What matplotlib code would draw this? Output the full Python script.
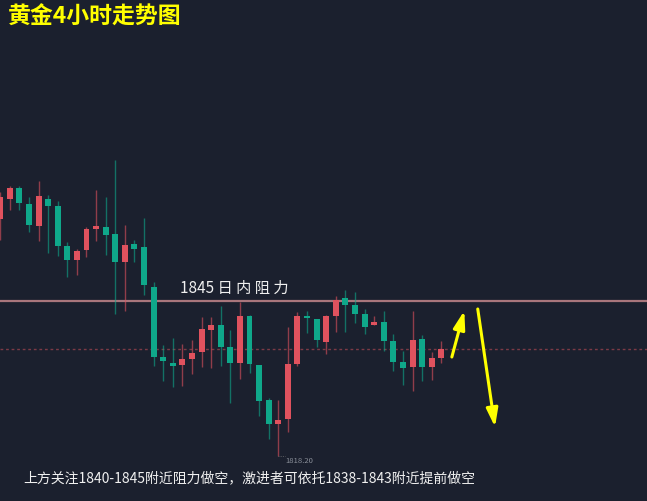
import matplotlib.pyplot as plt
import numpy as np

plt.rcParams['font.family'] = ['Noto Sans CJK SC', 'DejaVu Sans']

# 4-hour gold candles (red = up, green = down)
opens = [1859.2, 1862.6, 1864.5, 1861.8, 1858.0, 1862.6, 1861.4, 1854.5, 1852.1, 1853.8,
         1857.4, 1857.8, 1856.6, 1851.7, 1854.9, 1854.3, 1847.4, 1835.3, 1834.3, 1833.9,
         1835.0, 1836.2, 1840.0, 1840.9, 1837.0, 1834.3, 1842.4, 1833.9, 1827.9, 1823.7,
         1824.6, 1834.1, 1842.2, 1841.9, 1837.9, 1842.4, 1845.5, 1844.3, 1842.8, 1840.9,
         1841.4, 1838.1, 1834.5, 1833.6, 1838.4, 1833.6, 1835.1]
highs = [1863.8, 1864.9, 1864.9, 1863.0, 1865.7, 1863.3, 1862.3, 1855.2, 1854.0, 1857.8,
         1864.2, 1863.0, 1869.4, 1858.1, 1855.5, 1859.4, 1848.3, 1837.4, 1838.6, 1837.6,
         1838.3, 1842.2, 1842.2, 1844.1, 1840.0, 1844.8, 1842.6, 1833.9, 1828.2, 1827.9,
         1840.5, 1843.1, 1843.3, 1841.9, 1842.6, 1845.9, 1846.9, 1846.6, 1843.6, 1842.4,
         1843.3, 1839.3, 1836.4, 1843.3, 1839.1, 1836.2, 1838.1]
lows = [1855.5, 1860.7, 1860.7, 1856.9, 1855.4, 1853.3, 1852.8, 1849.1, 1849.5, 1852.6,
        1855.4, 1853.0, 1842.8, 1843.3, 1851.7, 1846.0, 1833.8, 1831.2, 1830.1, 1830.3,
        1832.4, 1833.6, 1833.4, 1833.8, 1827.4, 1831.5, 1832.6, 1825.1, 1821.1, 1818.2,
        1822.4, 1833.8, 1839.5, 1837.0, 1835.8, 1839.6, 1839.6, 1841.2, 1839.3, 1840.9,
        1836.4, 1832.9, 1830.5, 1829.4, 1831.2, 1831.3, 1834.3]
closes = [1863.0, 1864.5, 1861.9, 1858.1, 1863.2, 1861.4, 1854.5, 1852.1, 1853.6, 1857.4,
          1858.0, 1856.4, 1851.7, 1854.7, 1854.0, 1847.8, 1835.3, 1834.6, 1833.8, 1835.0,
          1836.0, 1840.2, 1840.9, 1837.0, 1834.3, 1842.4, 1834.1, 1827.7, 1823.7, 1824.4,
          1834.1, 1842.4, 1842.1, 1838.3, 1842.4, 1845.2, 1844.3, 1842.8, 1840.5, 1841.4,
          1838.1, 1834.5, 1833.4, 1838.3, 1833.6, 1835.1, 1836.7]

resistance = 1845.0
last_price = 1836.7
low_label = '1818.20'
title = '黄金4小时走势图'
level_text = '1845 日 内 阻 力'
note = '上方关注1840-1845附近阻力做空，激进者可依托1838-1843附近提前做空'

# arrows: (tail, head) in (bar index, price)
arrow_up = ((47.1, 1835.3), (48.4, 1843.3))
arrow_down = ((49.8, 1843.6), (51.6, 1823.2))

bg = '#1b202e'
up_col = '#e0525e'
dn_col = '#0fa88a'

fig = plt.figure(figsize=(6.47, 5.02), dpi=100, facecolor=bg)
ax = fig.add_axes([0, 0, 1, 1])
ax.set_facecolor(bg)

o = np.array(opens)
c = np.array(closes)
h = np.array(highs)
l = np.array(lows)
x = np.arange(len(o))
cols = np.where(c >= o, up_col, dn_col)

ax.vlines(x, l, h, colors=cols, linewidth=1, alpha=0.6, zorder=2)
body_lo = np.minimum(o, c)
body_h = np.maximum(np.abs(c - o), 0.35)
ax.bar(x, body_h, bottom=body_lo, width=0.62, color=cols, zorder=3, linewidth=0)

ax.axhline(resistance, color='#a9767c', linewidth=1.6, zorder=1)
ax.axhline(last_price, color='#7c3a46', linewidth=1, linestyle=(0, (2, 2)), zorder=1)

ax.text(18.7, resistance + 0.8, level_text, color='#f0f0f0', fontsize=11,
        ha='left', va='bottom', zorder=5)

# low marker
ax.plot([29, 29.7], [1818.2, 1818.2], color='#777777', linewidth=0.6, linestyle=':')
ax.text(29.7, 1818.2, low_label, color='#8a8f99', fontsize=5.5, ha='left', va='top')

for (tx, ty), (hx, hy) in (arrow_up, arrow_down):
    ax.annotate('', xy=(hx, hy), xytext=(tx, ty),
                arrowprops=dict(arrowstyle='-|>,head_length=1.1,head_width=0.35',
                                color='#ffff00', lw=2.2, shrinkA=0, shrinkB=0),
                zorder=6)

ax.set_xlim(-0.02, 67.45)
ax.set_ylim(1810.4, 1897.2)
ax.axis('off')

fig.text(0.012, 0.965, title, color='#ffff00', fontsize=16.5, fontweight='bold',
         ha='left', va='center')
fig.text(0.036, 0.048, note, color='#f0f0f0', fontsize=10, ha='left', va='center')

fig.savefig('out.png', dpi=100, facecolor=bg)
